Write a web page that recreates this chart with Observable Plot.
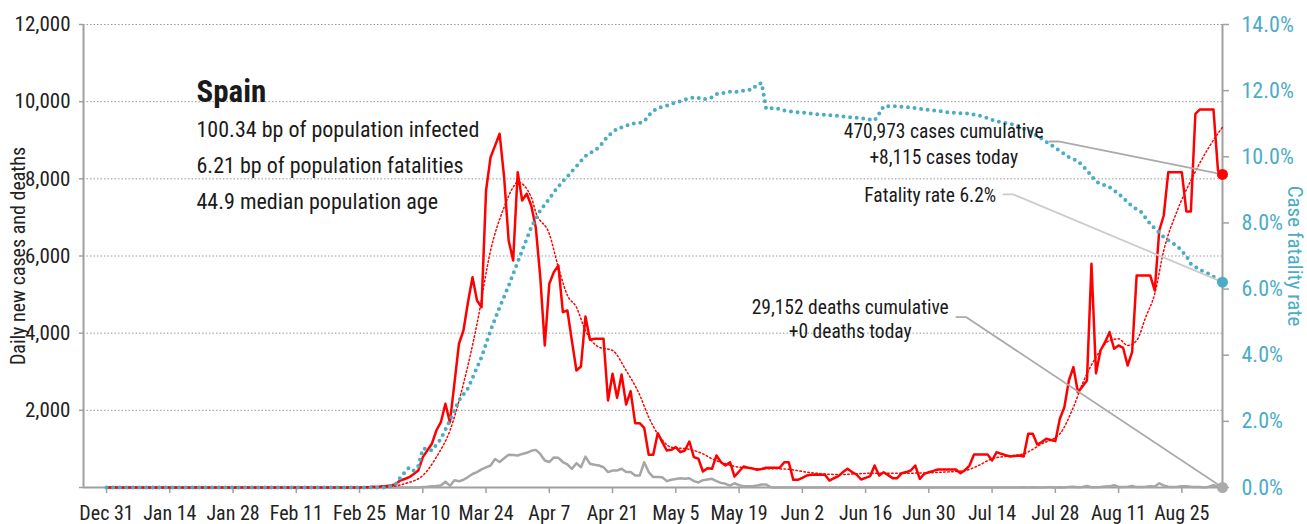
<!DOCTYPE html>
<html>
<head>
<meta charset="utf-8">
<script src="https://cdn.jsdelivr.net/npm/d3@7"></script>
<script src="https://cdn.jsdelivr.net/npm/@observablehq/plot@0.6"></script>
<style>
  body { margin: 0; background: #fff; }
  #chart svg { display: block; }
</style>
</head>
<body>
<div id="chart"></div>
<script>
// ---------- DATA ----------
const startDate = "2019-12-31"; // index 0 of the daily arrays

// Daily new cases, one value per day from Dec 31, 2019 to Sep 3, 2020
const dailyCases = [
  0,0,0,0,0,0,0,0,0,0,
  0,0,0,0,0,0,0,0,0,0,
  0,0,0,0,0,0,0,0,0,0,
  0,0,0,0,0,0,0,0,0,0,
  0,0,0,0,0,0,0,0,0,0,
  0,0,0,0,0,0,2,4,7,20,
  15,33,40,50,90,180,220,267,350,440,
  786,960,1132,1477,1693,2169,1693,2700,3725,4069,
  4800,5451,4847,4673,7698,8561,8860,9168,8043,6402,
  5884,8172,7439,7612,7309,6747,5451,3681,5280,5581,
  5754,4544,4588,3800,3033,3136,4432,3828,3854,3854,
  3854,2255,2946,2325,2929,2151,2497,1667,1667,1547,
  848,848,1408,1175,959,977,1045,915,959,1192,
  786,744,415,500,485,829,656,570,656,285,
  415,544,510,490,458,480,510,510,510,510,
  656,656,199,199,250,311,330,337,330,328,
  181,240,294,400,484,400,337,207,250,294,
  570,311,397,320,242,242,371,400,440,570,
  225,354,397,430,467,467,467,467,467,371,
  450,570,855,855,855,855,700,915,873,840,
  804,815,829,804,1392,1392,1114,1180,1262,1230,
  1201,1780,2081,2773,3119,2471,2620,2773,5798,2963,
  3551,3767,4026,3595,3681,3621,3162,3508,5495,5495,
  5495,5495,5106,6661,7050,8172,8172,8172,8172,7154,
  7154,9686,9798,9798,9798,9798,8217,8115
];

// Daily new deaths, same days
const dailyDeaths = [
  0,0,0,0,0,0,0,0,0,0,
  0,0,0,0,0,0,0,0,0,0,
  0,0,0,0,0,0,0,0,0,0,
  0,0,0,0,0,0,0,0,0,0,
  0,0,0,0,0,0,0,0,0,0,
  0,0,0,0,0,0,0,0,0,0,
  0,0,0,0,0,0,0,1,2,3,
  10,17,30,36,50,150,40,190,160,200,
  270,350,400,470,520,570,740,660,760,850,
  840,830,870,900,950,975,870,700,660,780,
  770,660,600,480,630,525,800,615,590,570,
  525,400,440,440,485,400,400,310,310,655,
  400,270,270,265,165,200,220,240,225,240,
  165,130,190,210,225,165,120,95,50,110,
  60,35,35,35,50,78,78,8,2,0,
  0,2,0,1,0,0,1,0,0,2,
  0,1,0,0,1,0,0,2,0,1,
  0,0,1,0,0,0,2,0,1,0,
  1,0,0,2,0,0,1,0,0,3,
  0,2,1,0,3,0,2,1,0,2,
  3,1,0,4,2,5,3,2,5,4,
  3,5,2,10,20,8,15,40,5,5,
  10,25,30,60,15,10,20,40,10,15,
  20,30,25,110,50,20,15,20,30,35,
  20,15,10,0,20,60,25,0
];

// Smoothed trend of daily cases (dotted red), day index -> value
const trendDays  = [0,60,63,66,70,73,76,79,82,85,88,90,91,94,95,98,100,102,104,106,109,112,115,118,120,122,125,129,132,134,137,140,145,148,151,155,162,170,177,185,190,193,196,200,203,207,211,214,216,219,222,224,226,228,230,232,234,237,240,244,247];
const trendCases = [0,0,20,100,311,786,1477,2688,4243,6143,7266,7784,7914,7525,7136,6575,5711,4980,4673,4069,3637,3551,3033,2400,1823,1392,1045,990,873,744,614,526,485,485,470,397,337,371,371,397,440,570,744,820,873,1132,1392,2081,2688,3378,3810,3854,3681,3810,4414,5021,6143,7180,7957,8821,9340];

// Case fatality rate in percent (dotted blue, right axis), day index -> %
const cfrDays    = [0,62,64,65,66,67,68,69,70,71,72,74,76,77,78,80,83,85,87,89,92,94,96,98,99,101,102,103,104,105,106,108,109,110,111,112,113,115,116,118,119,120,121,122,124,125,127,128,130,131,132,134,135,137,138,140,141,143,144,145,146,148,150,152,155,158,161,164,167,170,171,172,175,179,182,186,191,194,197,201,204,207,210,213,215,217,219,222,224,227,229,231,234,237,239,240,242,244,247];
const cfrPercent = [0,0,0.1,0.3,0.46,0.61,0.51,0.65,1.17,1.17,1.12,1.47,2.03,2.33,2.63,3.0,3.94,4.75,5.45,6.1,7.17,7.87,8.38,8.73,8.93,9.26,9.40,9.56,9.71,9.87,10.02,10.19,10.29,10.46,10.64,10.73,10.85,10.93,11.0,11.02,11.07,11.25,11.38,11.47,11.55,11.60,11.68,11.73,11.80,11.78,11.73,11.80,11.90,11.94,11.97,11.97,12.0,12.04,12.19,12.23,11.45,11.48,11.40,11.36,11.32,11.28,11.25,11.20,11.17,11.10,11.30,11.53,11.53,11.47,11.42,11.35,11.30,11.22,11.07,10.97,10.80,10.54,10.27,9.99,9.87,9.59,9.25,9.08,8.88,8.50,8.33,7.97,7.57,7.30,7.00,6.76,6.58,6.46,6.21];

// Axis ticks
const xTickDates = ["2019-12-31","2020-01-14","2020-01-28","2020-02-11","2020-02-25","2020-03-10","2020-03-24","2020-04-07","2020-04-21","2020-05-05","2020-05-19","2020-06-02","2020-06-16","2020-06-30","2020-07-14","2020-07-28","2020-08-11","2020-08-25"];
const yTicksLeft = [0, 2000, 4000, 6000, 8000, 10000, 12000];
const yTicksRight = [0, 2, 4, 6, 8, 10, 12, 14];

// Texts
const country = "Spain";
const infoLines = ["100.34 bp of population infected", "6.21 bp of population fatalities", "44.9 median population age"];
const casesCumulative = 470973, casesToday = 8115;
const deathsCumulative = 29152, deathsToday = 0;
const fatalityRate = 6.2;
const leftTitle = "Daily new cases and deaths";
const rightTitle = "Case fatality rate";

// ---------- CHART ----------
const RATIO = 12000 / 14;            // right axis % -> left axis units
const t0 = new Date(startDate + "T00:00:00Z").getTime();
const day = d => new Date(t0 + d * 864e5);
const FONT = '"Roboto Condensed","Noto Sans Display",sans-serif';
const fmt = d3.format(",");

const casesData = dailyCases.map((v, i) => ({date: day(i), value: v}));
const deathsData = dailyDeaths.map((v, i) => ({date: day(i), value: v}));
const trendData = trendDays.map((d, i) => ({date: day(d), value: trendCases[i]}));
const cfrData = cfrDays.map((d, i) => ({date: day(d), value: cfrPercent[i] * RATIO}));
const last = dailyCases.length - 1;
const lastCase = casesData[last], lastDeath = deathsData[last], lastCfr = cfrData[cfrData.length - 1];
const xTicks = xTickDates.map(s => new Date(s + "T00:00:00Z"));

const casesLeader = [{date: day(208.7), value: 8968}, {date: day(210.7), value: 8968}, lastCase];
const cfrLeader = [{date: day(198.5), value: 7595}, {date: day(200.7), value: 7595}, lastCfr];
const deathsLeader = [{date: day(188.1), value: 4414}, {date: day(190.3), value: 4414}, lastDeath];

const chart = Plot.plot({
  width: 1307,
  height: 524,
  marginLeft: 83,
  marginRight: 85,
  marginTop: 24,
  marginBottom: 37,
  style: {fontFamily: FONT, fontSize: "20px", color: "#222", background: "#fff"},
  x: {type: "utc", domain: [day(-5.1), day(last)], axis: null},
  y: {domain: [0, 12000], axis: null},
  marks: [
    Plot.gridY({ticks: yTicksLeft.filter(v => v > 0), stroke: "#9a9a9a", strokeOpacity: 1, strokeWidth: 1, strokeDasharray: "1.5,2"}),
    // axes
    Plot.axisX({ticks: xTicks, tickFormat: d3.utcFormat("%b %-d"), tickSize: 6, tickPadding: 12, fontSize: 20, stroke: "#a0a0a0", strokeWidth: 1.5, fill: "#222", label: null}),
    Plot.axisY({ticks: yTicksLeft, tickFormat: v => v === 0 ? "" : fmt(v), tickSize: 4, tickPadding: 9, fontSize: 21, stroke: "#a0a0a0", strokeWidth: 1.5, fill: "#222", label: null}),
    Plot.axisY({anchor: "right", ticks: yTicksRight.map(p => p * RATIO), tickFormat: v => (v / RATIO).toFixed(1) + "%", tickSize: 6, tickPadding: 13, fontSize: 22, stroke: "#a0a0a0", strokeWidth: 1.5, fill: "#4bacc6", label: null}),
    Plot.ruleY([0], {stroke: "#a0a0a0", strokeWidth: 2}),
    Plot.ruleX([day(-5.1), day(last)], {stroke: "#a0a0a0", strokeWidth: 2}),
    // axis titles
    Plot.text([leftTitle], {frameAnchor: "left", rotate: -90, dx: -65, textAnchor: "middle", fontSize: 20, fill: "#222"}),
    Plot.text([rightTitle], {frameAnchor: "right", rotate: 90, dx: 72, textAnchor: "middle", fontSize: 21, fill: "#4bacc6"}),
    // series
    Plot.line(deathsData, {x: "date", y: "value", stroke: "#a6a6a6", strokeWidth: 2.5}),
    Plot.line(trendData, {x: "date", y: "value", stroke: "#ff0000", strokeWidth: 1.5, strokeDasharray: "1.5,2.5", curve: "monotone-x"}),
    Plot.line(casesData, {x: "date", y: "value", stroke: "#ff0000", strokeWidth: 2.5}),
    Plot.line(cfrData, {x: "date", y: "value", stroke: "#4bacc6", strokeWidth: 4, strokeDasharray: "0,6.6", strokeLinecap: "round"}),
    // leaders
    Plot.line(casesLeader, {x: "date", y: "value", stroke: "#aaaaaa", strokeWidth: 1.8}),
    Plot.line(cfrLeader, {x: "date", y: "value", stroke: "#cccccc", strokeWidth: 1.8}),
    Plot.line(deathsLeader, {x: "date", y: "value", stroke: "#aaaaaa", strokeWidth: 1.8}),
    Plot.dot([lastCase], {x: "date", y: "value", r: 5.5, fill: "#ff0000"}),
    Plot.dot([lastCfr], {x: "date", y: "value", r: 5.5, fill: "#4bacc6"}),
    Plot.dot([lastDeath], {x: "date", y: "value", r: 5.5, fill: "#aaaaaa"}),
    // text block
    Plot.text([country], {frameAnchor: "top-left", dx: 113, dy: 77, lineAnchor: "bottom", textAnchor: "start", fontSize: 31, fontWeight: "bold", fill: "#1a1a1a"}),
    Plot.text([infoLines.join("\n")], {frameAnchor: "top-left", dx: 113, dy: 184, lineAnchor: "bottom", textAnchor: "start", fontSize: 22, lineHeight: 1.614, fill: "#1a1a1a"}),
    // annotations
    Plot.text([`${fmt(casesCumulative)} cases cumulative\n+${fmt(casesToday)} cases today`], {x: () => day(185.3), y: () => 8390, lineAnchor: "bottom", textAnchor: "middle", fontSize: 19.5, lineHeight: 1.3, fill: "#1a1a1a"}),
    Plot.text([`Fatality rate ${fatalityRate}%`], {x: () => day(196.9), y: () => 7395, lineAnchor: "bottom", textAnchor: "end", fontSize: 19.5, fill: "#1a1a1a"}),
    Plot.text([`${fmt(deathsCumulative)} deaths cumulative\n+${fmt(deathsToday)} deaths today`], {x: () => day(164.6), y: () => 3862, lineAnchor: "bottom", textAnchor: "middle", fontSize: 19.5, lineHeight: 1.28, fill: "#1a1a1a"})
  ]
});
document.getElementById("chart").append(chart);
</script>
</body>
</html>
